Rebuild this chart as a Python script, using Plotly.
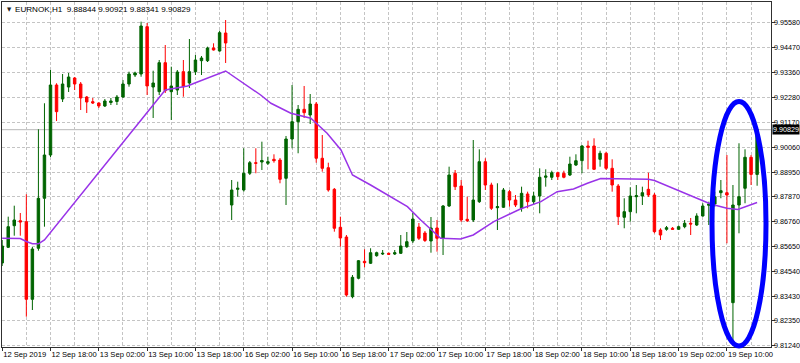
import plotly.graph_objects as go

# ---- data (EURNOK H1, bars indexed from 12 Sep 2019 10:00) ----
open_ = [9.84911, 9.85608, 9.86567, 9.86789, 9.86745, 9.83299, 9.85564, 9.87784, 9.89706, 9.92814,
         9.92192, 9.92725, 9.93125, 9.92858, 9.92281, 9.92073, 9.92015, 9.91882, 9.92037, 9.92082,
         9.92281, 9.92858, 9.93258, 9.93302, 9.95403, 9.92725, 9.92517, 9.93804, 9.92517, 9.92592,
         9.93405, 9.92903, 9.93405, 9.93893, 9.93893, 9.94457, 9.94324, 9.95123, 9.87486, 9.88183,
         9.88152, 9.88894, 9.89364, 9.89395, 9.89337, 9.89515, 9.89484, 9.88671, 9.90416, 9.91185,
         9.91735, 9.91482, 9.91970, 9.89560, 9.89142, 9.88183, 9.86496, 9.86065, 9.83415, 9.84232,
         9.84986, 9.84898, 9.85235, 9.85310, 9.85341, 9.85310, 9.85341, 9.85635, 9.85888, 9.86509,
         9.86243, 9.85888, 9.86465, 9.86008, 9.87442, 9.88894, 9.88330, 9.86851, 9.86820, 9.87633,
         9.89408, 9.88374, 9.87366, 9.87384, 9.88077, 9.87708, 9.87339, 9.87974, 9.87633, 9.87886,
         9.88716, 9.88716, 9.88920, 9.88894, 9.88818, 9.89262, 9.89453, 9.90106, 9.90106, 9.89515,
         9.89782, 9.89115, 9.88330, 9.86940, 9.87189, 9.87855, 9.87886, 9.88183, 9.87930, 9.86376,
         9.86407, 9.86452, 9.86407, 9.86523, 9.86674, 9.86598, 9.86998, 9.87473, 9.87530, 9.88032,
         9.88032, 9.83149, 9.87486, 9.88228, 9.89604, 9.88844]
high = [9.85932, 9.86967, 9.87455, 9.87131, 9.87961, 9.85621, 9.90847, 9.92002, 9.93480, 9.92890,
        9.93302, 9.93347, 9.93169, 9.92947, 9.92326, 9.92237, 9.92037, 9.92192, 9.92237, 9.92370,
        9.93036, 9.93405, 9.93405, 9.95625, 9.95567, 9.93449, 9.93924, 9.94590, 9.93627, 9.93480,
        9.93924, 9.94856, 9.94146, 9.94102, 9.94515, 9.94665, 9.95225, 9.95700, 9.88596, 9.88521,
        9.90004, 9.89440, 9.90004, 9.90297, 9.89630, 9.89737, 9.89573, 9.90550, 9.92814, 9.91926,
        9.92770, 9.92414, 9.92059, 9.90594, 9.89364, 9.88241, 9.86967, 9.86154, 9.84378, 9.85044,
        9.85519, 9.85564, 9.85413, 9.85488, 9.85368, 9.85488, 9.86154, 9.86287, 9.87131, 9.86687,
        9.86332, 9.86953, 9.86820, 9.87486, 9.89187, 9.89040, 9.88596, 9.87855, 9.90372, 9.89959,
        9.89560, 9.88476, 9.88450, 9.88241, 9.88152, 9.87930, 9.88299, 9.88077, 9.88077, 9.89115,
        9.89071, 9.89009, 9.88965, 9.89009, 9.89630, 9.89737, 9.90150, 9.90341, 9.90447, 9.89897,
        9.89853, 9.89515, 9.88418, 9.87784, 9.88272, 9.88374, 9.88299, 9.88920, 9.88019, 9.86452,
        9.86554, 9.86509, 9.86576, 9.86820, 9.86909, 9.87118, 9.87562, 9.87633, 9.88077, 9.88596,
        9.89706, 9.88374, 9.90226, 9.89959, 9.89706, 9.90921]
low = [9.84778, 9.85577, 9.86123, 9.86123, 9.82527, 9.82824, 9.85457, 9.86523, 9.89617, 9.91216,
       9.92059, 9.92503, 9.92592, 9.91704, 9.91571, 9.91970, 9.91793, 9.91837, 9.91926, 9.91926,
       9.92237, 9.92738, 9.93169, 9.93182, 9.92370, 9.91349, 9.92370, 9.92459, 9.91260, 9.92370,
       9.92294, 9.92681, 9.93258, 9.93258, 9.93835, 9.94346, 9.94293, 9.93791, 9.86820, 9.87855,
       9.88077, 9.88818, 9.88894, 9.89040, 9.89262, 9.89364, 9.88450, 9.87486, 9.90004, 9.89782,
       9.91349, 9.91082, 9.89364, 9.88965, 9.88077, 9.86301, 9.85635, 9.83415, 9.83343, 9.84187,
       9.84720, 9.84866, 9.85191, 9.85266, 9.85266, 9.85266, 9.85310, 9.85577, 9.85799, 9.85932,
       9.85843, 9.85368, 9.85413, 9.85266, 9.87397, 9.88152, 9.86731, 9.86731, 9.86731, 9.87575,
       9.88152, 9.87264, 9.86376, 9.87353, 9.87411, 9.87397, 9.87189, 9.87339, 9.87486, 9.87117,
       9.88299, 9.88596, 9.88596, 9.88671, 9.88774, 9.89218, 9.88894, 9.89071, 9.89040, 9.89187,
       9.89040, 9.88077, 9.86598, 9.86452, 9.86745, 9.87117, 9.87486, 9.87841, 9.86229, 9.85932,
       9.86345, 9.86376, 9.86376, 9.86452, 9.86154, 9.86554, 9.86967, 9.86598, 9.87411, 9.87784,
       9.85785, 9.81270, 9.86229, 9.87562, 9.88374, 9.88341]
close = [9.85666, 9.86523, 9.86820, 9.86731, 9.83299, 9.85532, 9.87784, 9.89706, 9.92814, 9.91629,
         9.92858, 9.93169, 9.92858, 9.92237, 9.92059, 9.92015, 9.91882, 9.92104, 9.92104, 9.92281,
         9.92858, 9.93302, 9.93347, 9.95434, 9.92770, 9.92903, 9.93804, 9.92561, 9.92770, 9.93391,
         9.92738, 9.93405, 9.93924, 9.94013, 9.94457, 9.94368, 9.95136, 9.94679, 9.88152, 9.88228,
         9.88894, 9.89364, 9.89337, 9.89462, 9.89408, 9.89453, 9.88627, 9.90416, 9.91185, 9.91735,
         9.91584, 9.91970, 9.89560, 9.89115, 9.88152, 9.86452, 9.86021, 9.83490, 9.84276, 9.85013,
         9.84924, 9.85368, 9.85368, 9.85341, 9.85297, 9.85368, 9.85666, 9.85857, 9.86864, 9.86008,
         9.85910, 9.86465, 9.86008, 9.87442, 9.88818, 9.88299, 9.86820, 9.86789, 9.87708, 9.89408,
         9.88374, 9.87339, 9.87411, 9.88152, 9.87708, 9.87486, 9.88005, 9.87633, 9.87886, 9.88716,
         9.88774, 9.88920, 9.88743, 9.88716, 9.89306, 9.89453, 9.90106, 9.90048, 9.89071, 9.89782,
         9.89115, 9.88374, 9.86967, 9.87189, 9.87886, 9.87899, 9.88032, 9.87930, 9.86301, 9.86154,
         9.86478, 9.86407, 9.86523, 9.86674, 9.86642, 9.86998, 9.87442, 9.87530, 9.87855, 9.88121,
         9.87930, 9.87486, 9.87855, 9.89604, 9.88844, 9.90829]

# moving average line, read at its vertices (bar index, price)
ma_x = [0, 3, 4, 5, 6, 7, 27, 30.7, 31.8, 34, 37, 42.8, 44.5, 47.8, 51.1, 53.8, 56.1, 58, 61,
        67.1, 69.3, 72.6, 75.9, 78, 81.4, 85.8, 89.2, 91.9, 94.6, 96.9, 99.1, 107, 108, 117.3,
        120, 121.8, 123, 125]
ma_y = [9.86008, 9.85999, 9.85865, 9.85763, 9.85763, 9.85932, 9.92592, 9.92770, 9.92889, 9.93111,
        9.93436, 9.92370, 9.92002, 9.91558, 9.91336, 9.90670, 9.89928, 9.88818, 9.88374,
        9.87411, 9.86820, 9.86008, 9.85976, 9.86154, 9.86745, 9.87308, 9.87633, 9.88077, 9.88196,
        9.88450, 9.88663, 9.88627, 9.88574, 9.87530, 9.87340, 9.87286, 9.87411, 9.87597]

x_tick_pos = [0, 8, 16, 24, 32, 40, 48, 56, 64, 72, 80, 88, 96, 104, 112, 120]
x_tick_text = ["12 Sep 2019", "12 Sep 18:00", "13 Sep 02:00", "13 Sep 10:00", "13 Sep 18:00",
               "16 Sep 02:00", "16 Sep 10:00", "16 Sep 18:00", "17 Sep 02:00", "17 Sep 10:00",
               "17 Sep 18:00", "18 Sep 02:00", "18 Sep 10:00", "18 Sep 18:00", "19 Sep 02:00",
               "19 Sep 10:00"]
y_ticks = [9.95580, 9.94470, 9.93360, 9.92280, 9.91170, 9.90060, 9.88950, 9.87870, 9.86760,
           9.85650, 9.84540, 9.83430, 9.82350, 9.81240]

symbol = "EURNOK,H1"
last_price = close[-1]

GREEN = "#006400"
RED = "#ff0000"
GRID = "#c4c4c4"
AXIS = "#303030"
FONT = "Liberation Sans"

bars = list(range(len(open_)))

fig = go.Figure()
fig.add_trace(go.Candlestick(
    x=bars, open=open_, high=high, low=low, close=close,
    increasing=dict(line=dict(color=GREEN, width=1), fillcolor=GREEN),
    decreasing=dict(line=dict(color=RED, width=1), fillcolor=RED),
    whiskerwidth=0, showlegend=False, hoverinfo="skip"))
fig.add_trace(go.Scatter(x=ma_x, y=ma_y, mode="lines",
                         line=dict(color="#9933e8", width=1.5),
                         showlegend=False, hoverinfo="skip"))

fig.update_layout(
    width=800, height=363,
    margin=dict(l=2, r=29, t=2, b=16),
    paper_bgcolor="white", plot_bgcolor="white",
    font=dict(family=FONT, size=7.4, color="black"),
    boxgap=0.42,
    showlegend=False,
)
fig.update_xaxes(
    range=[-0.03, 127.3], rangeslider=dict(visible=False),
    tickmode="array", tickvals=x_tick_pos, ticktext=x_tick_text,
    ticks="outside", ticklen=3, tickcolor=AXIS, tickangle=0,
    ticklabelposition="outside right", automargin=False,
    showgrid=True, gridcolor=GRID, griddash="3px,2px", gridwidth=1,
    minor=dict(tickmode="linear", tick0=0, dtick=4, showgrid=True,
               gridcolor=GRID, griddash="3px,2px", ticks=""),
    showline=True, linecolor=AXIS, linewidth=1, mirror=True,
    zeroline=False, tickfont=dict(size=7.6, family=FONT),
)
fig.update_yaxes(
    range=[9.81181, 9.96499], side="right", automargin=False,
    tickmode="array", tickvals=y_ticks, showticklabels=False,
    ticks="outside", ticklen=3, tickcolor=AXIS,
    showgrid=True, gridcolor=GRID, griddash="3px,2px", gridwidth=1,
    showline=True, linecolor=AXIS, linewidth=1, mirror=True,
    zeroline=False,
)

# price scale labels (right side)
for v in y_ticks:
    fig.add_annotation(xref="paper", x=1, xshift=2, yref="y", y=v, text=f"{v:.5f}",
                       showarrow=False, xanchor="left", yanchor="middle",
                       font=dict(size=7.2, color="black", family=FONT), borderpad=0)

# current price line and label
fig.add_shape(type="line", xref="paper", x0=0, x1=1, yref="y", y0=last_price, y1=last_price,
              line=dict(color="#b8b8b8", width=1), layer="below")
fig.add_annotation(xref="paper", x=1, xshift=1, yref="y", y=last_price,
                   text=f"{last_price:.5f}", showarrow=False, xanchor="left", yanchor="middle",
                   bgcolor="black", font=dict(color="white", size=7.2, family=FONT), borderpad=0)

# header text
fig.add_annotation(xref="paper", yref="paper", x=0.0035, y=0.979, text="▼", showarrow=False,
                   xanchor="left", yanchor="middle", font=dict(size=5.5, color="#202020", family="DejaVu Sans"))
fig.add_annotation(xref="paper", yref="paper", x=0.0143, y=0.979,
                   text=f"{symbol}  {open_[-1]:.5f} {high[-1]:.5f} {low[-1]:.5f} {close[-1]:.5f}",
                   showarrow=False, xanchor="left", yanchor="middle",
                   font=dict(size=8.1, color="black", family=FONT))

# highlight ellipse
fig.add_shape(type="circle", xref="paper", yref="paper",
              x0=0.9233, x1=0.9935, y0=0.003, y1=0.7116,
              line=dict(color="#0000ff", width=5), layer="above")

fig.write_html("out.html", config={"displayModeBar": False},
               post_script="document.body.style.margin='0px';document.body.style.overflow='hidden';")
